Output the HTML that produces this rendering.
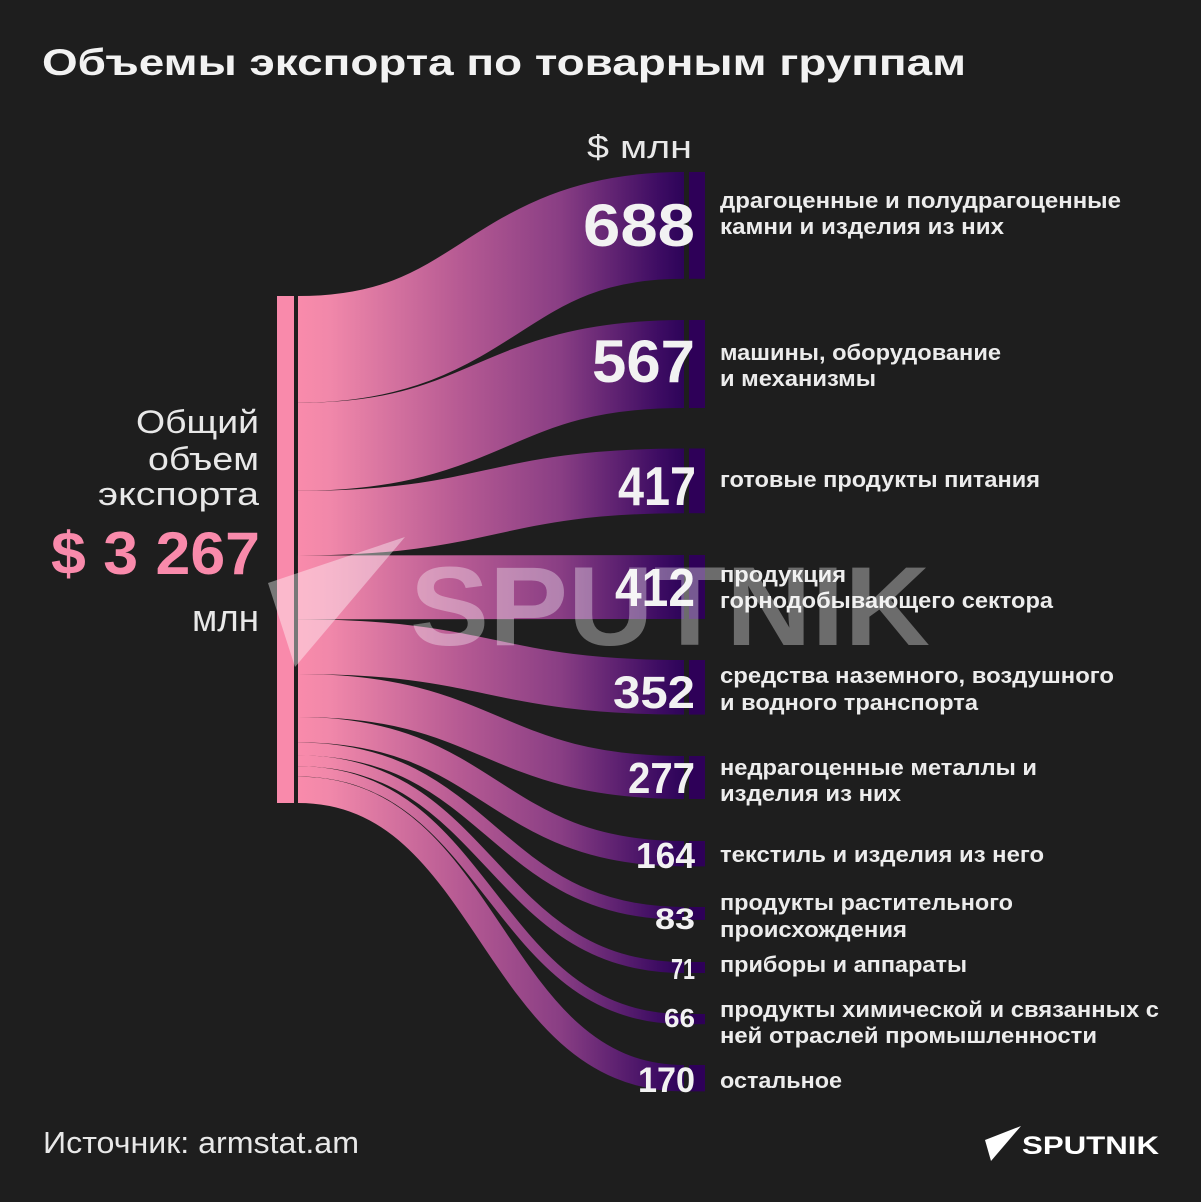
<!DOCTYPE html>
<html>
<head>
<meta charset="utf-8">
<style>
html,body{margin:0;padding:0;background:#1e1e1e;}
svg{display:block;}
text{font-family:"Liberation Sans","DejaVu Sans",sans-serif;}
</style>
</head>
<body>
<svg width="1201" height="1202" viewBox="0 0 1201 1202" xmlns="http://www.w3.org/2000/svg">
<defs>
<linearGradient id="g" gradientUnits="userSpaceOnUse" x1="298" y1="0" x2="684" y2="0">
<stop offset="0" stop-color="#f98bab"/>
<stop offset="0.08" stop-color="#f188aa"/>
<stop offset="0.42" stop-color="#b65a93"/>
<stop offset="0.68" stop-color="#893e84"/>
<stop offset="0.94" stop-color="#3c0b62"/>
<stop offset="1" stop-color="#2d0459"/>
</linearGradient>
</defs>
<rect x="0" y="0" width="1201" height="1202" fill="#1e1e1e"/>

<!-- Title -->
<text x="42" y="75" font-size="37" font-weight="bold" fill="#f2f2f2" textLength="924" lengthAdjust="spacingAndGlyphs">Объемы экспорта по товарным группам</text>
<text x="587" y="158" font-size="32" fill="#e8e8e8" textLength="105" lengthAdjust="spacingAndGlyphs">$ млн</text>

<!-- Left bar -->
<rect x="277" y="296" width="17" height="507" fill="#f98aab"/>

<!-- Flows -->
<g fill="none" stroke="url(#g)">
<path d="M298,349.4 C491,349.4 491,225.4 684,225.4" stroke-width="106.8"/>
<path d="M298,446.8 C491,446.8 491,364 684,364" stroke-width="88"/>
<path d="M298,523.1 C491,523.1 491,480.9 684,480.9" stroke-width="64.7"/>
<path d="M298,587.4 C491,587.4 491,587 684,587" stroke-width="63.9"/>
<path d="M298,646.7 C491,646.7 491,687.3 684,687.3" stroke-width="54.6"/>
<path d="M298,695.5 C491,695.5 491,777.5 684,777.5" stroke-width="43"/>
<path d="M298,729.7 C491,729.7 491,853.7 684,853.7" stroke-width="25.4"/>
<path d="M298,748.9 C491,748.9 491,913.4 684,913.4" stroke-width="12.9"/>
<path d="M298,760.8 C491,760.8 491,967.5 684,967.5" stroke-width="11"/>
<path d="M298,771.4 C491,771.4 491,1019.1 684,1019.1" stroke-width="10.2"/>
<path d="M298,789.8 C491,789.8 491,1078.2 684,1078.2" stroke-width="26.4"/>
</g>

<!-- Right node bars -->
<g fill="#2e0058">
<rect x="689" y="172" width="16" height="106.8"/>
<rect x="689" y="320" width="16" height="88"/>
<rect x="689" y="448.5" width="16" height="64.7"/>
<rect x="689" y="555" width="16" height="63.9"/>
<rect x="689" y="660" width="16" height="54.6"/>
<rect x="689" y="756" width="16" height="43"/>
<rect x="689" y="841" width="16" height="25.4"/>
<rect x="689" y="907" width="16" height="12.9"/>
<rect x="689" y="962" width="16" height="11"/>
<rect x="689" y="1014" width="16" height="10.2"/>
<rect x="689" y="1065" width="16" height="26.4"/>
</g>

<!-- Values -->
<g font-weight="bold" fill="#f2f2f2">
<text x="583" y="246" font-size="60" textLength="112" lengthAdjust="spacingAndGlyphs">688</text>
<text x="592" y="382" font-size="60" textLength="103" lengthAdjust="spacingAndGlyphs">567</text>
<text x="618" y="505" font-size="55" textLength="78" lengthAdjust="spacingAndGlyphs">417</text>
<text x="615" y="606" font-size="54" textLength="80" lengthAdjust="spacingAndGlyphs">412</text>
<text x="613" y="708" font-size="45" textLength="82" lengthAdjust="spacingAndGlyphs">352</text>
<text x="628" y="793" font-size="44" textLength="67" lengthAdjust="spacingAndGlyphs">277</text>
<text x="636" y="868" font-size="36" textLength="59" lengthAdjust="spacingAndGlyphs">164</text>
<text x="655" y="929" font-size="30" textLength="40" lengthAdjust="spacingAndGlyphs">83</text>
<text x="671" y="979" font-size="29" textLength="24" lengthAdjust="spacingAndGlyphs">71</text>
<text x="664" y="1027" font-size="26" textLength="31" lengthAdjust="spacingAndGlyphs">66</text>
<text x="638" y="1092" font-size="35" textLength="57" lengthAdjust="spacingAndGlyphs">170</text>
</g>

<!-- Labels -->
<g font-weight="bold" font-size="22" fill="#ececec">
<text x="720" y="208" textLength="401" lengthAdjust="spacingAndGlyphs">драгоценные и полудрагоценные</text>
<text x="720" y="234" textLength="284" lengthAdjust="spacingAndGlyphs">камни и изделия из них</text>
<text x="720" y="360" textLength="281" lengthAdjust="spacingAndGlyphs">машины, оборудование</text>
<text x="720" y="386" textLength="156" lengthAdjust="spacingAndGlyphs">и механизмы</text>
<text x="720" y="487" textLength="320" lengthAdjust="spacingAndGlyphs">готовые продукты питания</text>
<text x="720" y="582" textLength="126" lengthAdjust="spacingAndGlyphs">продукция</text>
<text x="720" y="608" textLength="333" lengthAdjust="spacingAndGlyphs">горнодобывающего сектора</text>
<text x="720" y="683" textLength="394" lengthAdjust="spacingAndGlyphs">средства наземного, воздушного</text>
<text x="720" y="710" textLength="258" lengthAdjust="spacingAndGlyphs">и водного транспорта</text>
<text x="720" y="775" textLength="317" lengthAdjust="spacingAndGlyphs">недрагоценные металлы и</text>
<text x="720" y="801" textLength="181" lengthAdjust="spacingAndGlyphs">изделия из них</text>
<text x="720" y="862" textLength="324" lengthAdjust="spacingAndGlyphs">текстиль и изделия из него</text>
<text x="720" y="910" textLength="293" lengthAdjust="spacingAndGlyphs">продукты растительного</text>
<text x="720" y="937" textLength="187" lengthAdjust="spacingAndGlyphs">происхождения</text>
<text x="720" y="972" textLength="247" lengthAdjust="spacingAndGlyphs">приборы и аппараты</text>
<text x="720" y="1017" textLength="439" lengthAdjust="spacingAndGlyphs">продукты химической и связанных с</text>
<text x="720" y="1043" textLength="377" lengthAdjust="spacingAndGlyphs">ней отраслей промышленности</text>
<text x="720" y="1088" textLength="122" lengthAdjust="spacingAndGlyphs">остальное</text>
</g>

<!-- Left total -->
<g fill="#e8e8e8" font-size="32">
<text x="136" y="433" textLength="123" lengthAdjust="spacingAndGlyphs">Общий</text>
<text x="148" y="470" textLength="111" lengthAdjust="spacingAndGlyphs">объем</text>
<text x="98" y="505" textLength="161" lengthAdjust="spacingAndGlyphs">экспорта</text>
<text x="192" y="631" font-size="38" textLength="67" lengthAdjust="spacingAndGlyphs">млн</text>
</g>
<text x="51" y="574" font-size="60" font-weight="bold" fill="#f98aab" textLength="209" lengthAdjust="spacingAndGlyphs">$ 3 267</text>

<!-- Watermark -->
<polygon points="405,537 268,583 295,667" fill="#ffffff" fill-opacity="0.4"/>
<text x="410" y="645" font-size="112" font-weight="bold" fill="#ffffff" fill-opacity="0.35" textLength="520" lengthAdjust="spacingAndGlyphs">SPUTNIK</text>

<!-- Footer -->
<text x="43" y="1153" font-size="31" fill="#e8e8e8" textLength="316" lengthAdjust="spacingAndGlyphs">Источник: armstat.am</text>
<polygon points="1021,1126 985,1140 991,1161" fill="#ffffff"/>
<text x="1022" y="1154" font-size="25" font-weight="bold" fill="#ffffff" textLength="137" lengthAdjust="spacingAndGlyphs">SPUTNIK</text>
</svg>
</body>
</html>
